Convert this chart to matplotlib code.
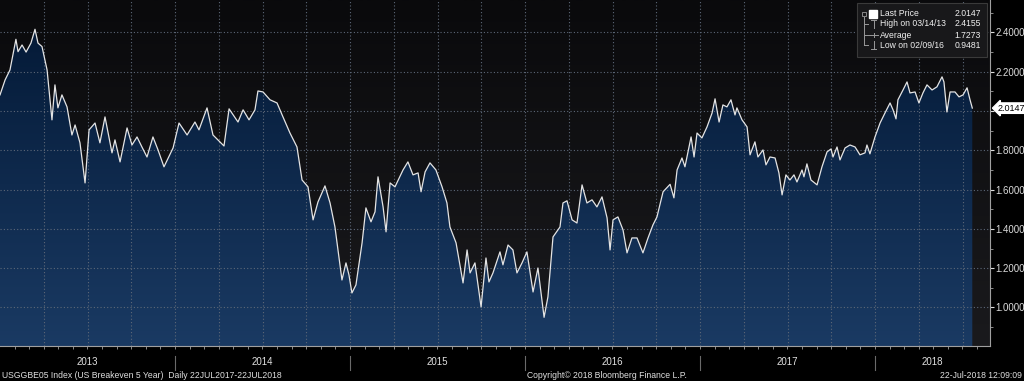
import numpy as np
import matplotlib
matplotlib.use('Agg')
from matplotlib import pyplot as plt
from matplotlib.patches import Rectangle, Polygon
from matplotlib.transforms import blended_transform_factory

# US 5y breakeven (decimal year, value)
t = [2013.000, 2013.029, 2013.057, 2013.091, 2013.103, 2013.126, 2013.149, 2013.177, 2013.200, 2013.217,
     2013.240, 2013.269, 2013.297, 2013.314, 2013.331, 2013.354, 2013.383, 2013.411, 2013.429, 2013.457,
     2013.486, 2013.509, 2013.543, 2013.571, 2013.600, 2013.640, 2013.657, 2013.686, 2013.726, 2013.754,
     2013.783, 2013.811, 2013.840, 2013.874, 2013.903, 2013.937, 2013.989, 2014.023, 2014.069, 2014.114,
     2014.137, 2014.183, 2014.217, 2014.280, 2014.309, 2014.360, 2014.389, 2014.423, 2014.457, 2014.474,
     2014.503, 2014.543, 2014.583, 2014.617, 2014.657, 2014.697, 2014.726, 2014.760, 2014.789, 2014.817,
     2014.857, 2014.886, 2014.914, 2014.954, 2014.977, 2014.994, 2015.011, 2015.034, 2015.069, 2015.091,
     2015.120, 2015.143, 2015.160, 2015.189, 2015.206, 2015.229, 2015.257, 2015.303, 2015.331, 2015.360,
     2015.389, 2015.406, 2015.429, 2015.457, 2015.491, 2015.526, 2015.554, 2015.571, 2015.606, 2015.646,
     2015.669, 2015.686, 2015.714, 2015.749, 2015.777, 2015.794, 2015.817, 2015.857, 2015.874, 2015.903,
     2015.931, 2015.954, 2015.983, 2016.011, 2016.046, 2016.074, 2016.109, 2016.131, 2016.160, 2016.200,
     2016.217, 2016.240, 2016.269, 2016.297, 2016.326, 2016.354, 2016.383, 2016.411, 2016.440, 2016.469,
     2016.486, 2016.503, 2016.531, 2016.560, 2016.583, 2016.611, 2016.640, 2016.674, 2016.703, 2016.731,
     2016.754, 2016.789, 2016.829, 2016.851, 2016.869, 2016.897, 2016.914, 2016.949, 2016.966, 2016.983,
     2017.011, 2017.040, 2017.069, 2017.086, 2017.109, 2017.131, 2017.154, 2017.177, 2017.200, 2017.211,
     2017.240, 2017.269, 2017.286, 2017.314, 2017.331, 2017.360, 2017.377, 2017.400, 2017.429, 2017.451,
     2017.469, 2017.491, 2017.514, 2017.537, 2017.554, 2017.583, 2017.594, 2017.611, 2017.634, 2017.669,
     2017.697, 2017.726, 2017.749, 2017.760, 2017.783, 2017.800, 2017.829, 2017.857, 2017.886, 2017.914,
     2017.943, 2017.954, 2017.971, 2018.000, 2018.029, 2018.057, 2018.086, 2018.103, 2018.120, 2018.131,
     2018.160, 2018.183, 2018.200, 2018.229, 2018.251, 2018.274, 2018.297, 2018.326, 2018.354, 2018.383,
     2018.394, 2018.411, 2018.429, 2018.457, 2018.480, 2018.503, 2018.526, 2018.543, 2018.556]
vals = [2.082, 2.158, 2.209, 2.365, 2.302, 2.336, 2.300, 2.346, 2.416, 2.346,
        2.328, 2.209, 1.955, 2.133, 2.016, 2.082, 2.021, 1.878, 1.929, 1.838,
        1.634, 1.904, 1.939, 1.838, 1.970, 1.787, 1.853, 1.741, 1.914, 1.827,
        1.868, 1.817, 1.766, 1.868, 1.802, 1.716, 1.812, 1.939, 1.878, 1.944,
        1.904, 2.016, 1.878, 1.822, 2.011, 1.944, 2.006, 1.955, 2.006, 2.102,
        2.097, 2.057, 2.041, 1.970, 1.888, 1.817, 1.649, 1.614, 1.446, 1.537,
        1.619, 1.532, 1.410, 1.140, 1.227, 1.166, 1.074, 1.115, 1.329, 1.507,
        1.436, 1.487, 1.665, 1.512, 1.385, 1.634, 1.614, 1.700, 1.741, 1.675,
        1.685, 1.589, 1.690, 1.736, 1.700, 1.614, 1.532, 1.410, 1.329, 1.125,
        1.293, 1.176, 1.227, 1.003, 1.252, 1.130, 1.176, 1.283, 1.217, 1.318,
        1.293, 1.176, 1.227, 1.283, 1.079, 1.201, 0.950, 1.054, 1.359, 1.410,
        1.532, 1.543, 1.446, 1.430, 1.624, 1.532, 1.548, 1.512, 1.563, 1.456,
        1.293, 1.446, 1.461, 1.395, 1.278, 1.354, 1.354, 1.278, 1.354, 1.420,
        1.461, 1.589, 1.627, 1.558, 1.700, 1.761, 1.716, 1.868, 1.766, 1.888,
        1.863, 1.919, 1.990, 2.062, 1.944, 2.031, 2.021, 2.057, 1.980, 2.016,
        1.955, 1.919, 1.777, 1.843, 1.766, 1.802, 1.726, 1.766, 1.761, 1.685,
        1.573, 1.675, 1.649, 1.675, 1.639, 1.700, 1.665, 1.731, 1.649, 1.624,
        1.716, 1.792, 1.807, 1.766, 1.817, 1.751, 1.812, 1.827, 1.817, 1.777,
        1.787, 1.827, 1.782, 1.868, 1.939, 1.990, 2.041, 2.006, 1.960, 2.057,
        2.107, 2.148, 2.092, 2.097, 2.041, 2.092, 2.133, 2.107, 2.123, 2.174,
        2.148, 1.995, 2.097, 2.097, 2.072, 2.082, 2.118, 2.057, 2.015]

years = [2013, 2014, 2015, 2016, 2017, 2018]
yticks = [1.0, 1.2, 1.4, 1.6, 1.8, 2.0, 2.2, 2.4]
last_price = 2.0147
legend_rows = [('Last Price', '2.0147'), ('High on 03/14/13', '2.4155'),
               ('Average', '1.7273'), ('Low on 02/09/16', '0.9481')]

W, H = 1024, 381
def fx(x):
    return x / W
def fy(y):
    return 1 - y / H

plt.rcParams['font.family'] = ['Liberation Sans', 'DejaVu Sans']
fig = plt.figure(figsize=(W / 100, H / 100), dpi=100, facecolor='black')
ax = fig.add_axes([0, fy(346), fx(990), 346 / H])
x0, x1 = 2013.0, 2013 + 990 / 175
y0, y1 = 0.804, 2.565
ax.set_xlim(x0, x1)
ax.set_ylim(y0, y1)

# dark background gradient
bg = np.linspace(0, 1, 256).reshape(-1, 1)
bg_cmap = matplotlib.colors.LinearSegmentedColormap.from_list('bg', ['#1a1a1d', '#0a0a0c'])
ax.imshow(bg, extent=[x0, x1, y1, y0], aspect='auto', cmap=bg_cmap, zorder=0)

# navy area fill gradient clipped to the data
fill_cmap = matplotlib.colors.LinearSegmentedColormap.from_list('fill', ['#1a3a63', '#041a37'])
grad = ax.imshow(bg, extent=[t[0], t[-1], 2.45, y0], aspect='auto', cmap=fill_cmap, zorder=1)
poly = Polygon(list(zip(t, vals)) + [(t[-1], y0), (t[0], y0)], closed=True,
               facecolor='none', edgecolor='none', transform=ax.transData)
ax.add_patch(poly)
grad.set_clip_path(poly)

# grid, dotted, drawn over the fill
gstyle = dict(color='#5d6878', lw=0.8, ls=(0, (1, 2)), zorder=4)
for q in np.arange(2013.25, 2018.75, 0.25):
    ax.plot([q, q], [y0, y1], **gstyle)
for v in yticks:
    ax.plot([x0, x1], [v, v], **gstyle)

ax.plot(t, vals, color='#e4e4e4', lw=0.9, zorder=5)

# axes style
for s in ['top', 'left']:
    ax.spines[s].set_visible(False)
ax.spines['right'].set_color('#a0a0a0')
ax.spines['bottom'].set_color('#a0a0a0')
ax.spines['right'].set_linewidth(0.8)
ax.spines['bottom'].set_linewidth(0.8)
ax.yaxis.tick_right()
ax.set_yticks(yticks)
ax.set_yticklabels(['' if v == 2.0 else '%.4f' % v for v in yticks])
ax.set_yticks(np.arange(0.9, 2.55, 0.2), minor=True)
ax.tick_params(axis='y', which='major', colors='#dcdcdc', labelsize=7, length=3, pad=1)
ax.tick_params(axis='y', which='minor', colors='#a0a0a0', length=2)
ax.set_xticks([])
ax.set_xticks(np.arange(2013 + 1 / 12, x1, 1 / 12), minor=True)
ax.tick_params(axis='x', which='minor', colors='#a0a0a0', length=2.5)

# year labels and separators under the axis
tr = blended_transform_factory(ax.transData, ax.transAxes)
for yr in years:
    if yr > 2013:
        ax.plot([yr, yr], [-10 / 346, -24 / 346], color='#6a6a6a', lw=0.8,
                transform=tr, clip_on=False)
    mid = (yr + min(yr + 1, x1)) / 2
    ax.text(mid, -16 / 346, str(yr), transform=tr, color='#e0e0e0', fontsize=7,
            ha='center', va='center')

# last price tag
ax.text(1.008, last_price, '%.4f' % last_price,
        transform=blended_transform_factory(ax.transAxes, ax.transData),
        color='black', fontsize=6.5, va='center', ha='left',
        bbox=dict(boxstyle='larrow,pad=0.08', fc='white', ec='white'))

# legend box
fig.patches.append(Rectangle((fx(857), fy(57)), fx(130), 54 / H, transform=fig.transFigure,
                             facecolor='#18181a', edgecolor='#3a3a3a', lw=0.8, zorder=5))
row_y = [14, 24, 35, 45]
for (lab, val), ry in zip(legend_rows, row_y):
    fig.text(fx(880), fy(ry), lab, color='#f0f0f0', fontsize=6.2, va='center', ha='left', zorder=6)
    fig.text(fx(981), fy(ry), val, color='#f0f0f0', fontsize=6.2, va='center', ha='right', zorder=6)
fig.patches.append(Rectangle((fx(869), fy(18)), fx(8), 8 / H, transform=fig.transFigure,
                             facecolor='white', edgecolor='white', zorder=6))
lc = '#9a9a9a'
fig.add_artist(plt.Line2D([fx(864), fx(864)], [fy(17), fy(45)], color=lc, lw=0.7, zorder=6))
for ry in row_y[1:]:
    fig.add_artist(plt.Line2D([fx(864), fx(868)], [fy(ry), fy(ry)], color=lc, lw=0.7, zorder=6))
fig.add_artist(plt.Rectangle((fx(862), fy(16)), fx(4), 4 / H, transform=fig.transFigure,
                             facecolor='none', edgecolor=lc, lw=0.6, zorder=6))
# high / average / low glyphs
fig.add_artist(plt.Line2D([fx(871), fx(876)], [fy(20), fy(20)], color=lc, lw=0.7, zorder=6))
fig.add_artist(plt.Line2D([fx(873.5), fx(873.5)], [fy(20), fy(28)], color=lc, lw=0.7, zorder=6))
fig.add_artist(plt.Line2D([fx(869), fx(878)], [fy(35), fy(35)], color=lc, lw=0.7, zorder=6))
fig.add_artist(plt.Line2D([fx(873.5), fx(873.5)], [fy(33), fy(37)], color=lc, lw=0.7, zorder=6))
fig.add_artist(plt.Line2D([fx(871), fx(876)], [fy(49), fy(49)], color=lc, lw=0.7, zorder=6))
fig.add_artist(plt.Line2D([fx(873.5), fx(873.5)], [fy(41), fy(49)], color=lc, lw=0.7, zorder=6))

# footer
fig.text(fx(2), fy(375), 'USGGBE05 Index (US Breakeven 5 Year)  Daily 22JUL2017-22JUL2018',
         color='#e0e0e0', fontsize=6.2, va='center', ha='left')
fig.text(fx(527), fy(375), 'Copyright\u00a9 2018 Bloomberg Finance L.P.',
         color='#e0e0e0', fontsize=6.2, va='center', ha='left')
fig.text(fx(1022), fy(375), '22-Jul-2018 12:09:09',
         color='#e0e0e0', fontsize=6.2, va='center', ha='right')

fig.savefig('out.png', dpi=100, facecolor='black')
